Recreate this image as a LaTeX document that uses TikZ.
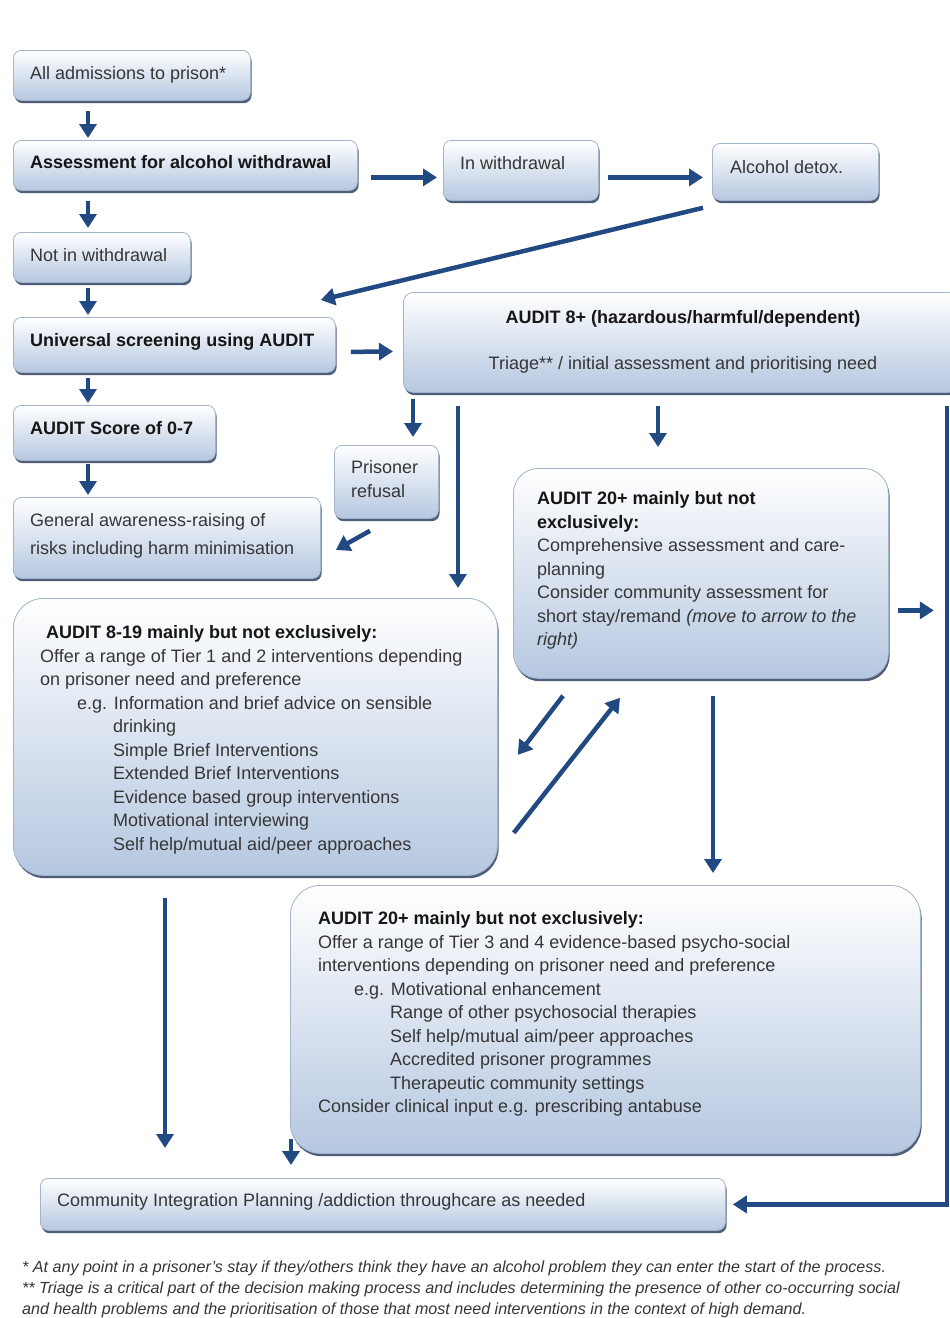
\documentclass[tikz,border=0pt]{standalone}
\usepackage{fontspec}
\setmainfont{Liberation Sans}
\usetikzlibrary{arrows.meta,shadows,calc}
\definecolor{arrowblue}{HTML}{224A82}
\definecolor{boxbot}{HTML}{B5C7E0}
\definecolor{boxline}{HTML}{A3B4CB}
\definecolor{shadowc}{HTML}{3B4C6B}
\definecolor{txtc}{HTML}{363636}
\definecolor{boldc}{HTML}{161616}
\newcommand\bx[6][8pt]{\node[box=#1, minimum width=#5pt, minimum height=#6pt] (#2) at (#3,#4) {};}
\begin{document}
\begin{tikzpicture}[x=1pt,y=-1pt,
 box/.style={draw=boxline, line width=0.8pt, rounded corners=#1, top color=white, bottom color=boxbot,
   drop shadow={shadow xshift=1.2pt, shadow yshift=-2.8pt, fill=shadowc, opacity=0.9},
   inner sep=0, anchor=north west},
 box/.default=8pt,
 txt/.style={font=\fontsize{18}{23.5}\selectfont, text=txtc, inner sep=0, align=left},
 btxt/.style={font=\fontsize{18}{23.5}\selectfont\bfseries, text=boldc, inner sep=0, align=left},
 foot/.style={font=\fontsize{16.1}{21}\selectfont\itshape, text=txtc, inner sep=0, align=left},
 arr/.style={draw=arrowblue, line width=4.5pt, -{Triangle[length=14pt,width=17pt]}},
]
\fill[white] (0,0) rectangle (950,1318);
\useasboundingbox (0,0) rectangle (950,1318);

% boxes
\bx{adm}{13}{50}{237}{50}
\bx{assess}{13}{140}{344}{50}
\bx{inw}{443}{140}{155}{60}
\bx{detox}{712}{143}{166}{57}
\bx{notw}{13}{232}{177}{50}
\bx{univ}{13}{317}{322}{55}
\bx[10pt]{aud8}{403}{292}{555}{100}
\bx{score}{13}{405}{202}{55}
\bx{refuse}{334}{445}{104}{73}
\bx{general}{13}{497}{307}{81}
\bx[25pt]{aud20}{513}{468}{375}{210}
\bx[30pt]{aud819}{13}{598}{484}{277}
\bx[30pt]{aud20b}{290}{885}{630}{268}
\bx{comm}{40}{1178}{685}{52}

% texts
\node[txt, anchor=base west] (tadm) at (30,79.5) {All admissions to prison*};
\node[btxt, anchor=base west] (tass) at (30,168.5) {Assessment for alcohol withdrawal};
\node[txt, anchor=base west] (tinw) at (460,169) {In withdrawal};
\node[txt, anchor=base west] (tdet) at (730,173.5) {Alcohol detox.};
\node[txt, anchor=base west] (tnotw) at (30,261) {Not in withdrawal};
\node[btxt, anchor=base west] (tuniv) at (30,346.5) {Universal screening using AUDIT};
\node[btxt, anchor=base] (ta8a) at (683,323.5) {AUDIT 8+ (hazardous/harmful/dependent)};
\node[txt, anchor=base] (ta8b) at (683,369) {Triage** / initial assessment and prioritising need};
\node[btxt, anchor=base west] (tscore) at (30,434.5) {AUDIT Score of 0-7};
\node[txt, anchor=north west] (tref) at (351,460.5) {Prisoner\\refusal};
\node[txt, anchor=north west, font=\fontsize{18}{28}\selectfont] (tgen) at (30,513.5) {General awareness-raising of\\risks including harm minimisation};
\node[txt, anchor=north west] (ta20) at (537,491.5) {\textbf{\color{boldc}AUDIT 20+ mainly but not}\\\textbf{\color{boldc}exclusively:}\\Comprehensive assessment and care-\\planning\\Consider community assessment for\\short stay/remand \textit{(move to arrow to the}\\\textit{right)}};
\node[txt, anchor=north west] (ta819) at (40,625.5) {\hspace*{6pt}\textbf{\color{boldc}AUDIT 8-19 mainly but not exclusively:}\\
Offer a range of Tier 1 and 2 interventions depending\\
on prisoner need and preference\\
\hspace*{37pt}e.g. Information and brief advice on sensible\\
\hspace*{73pt}drinking\\
\hspace*{73pt}Simple Brief Interventions\\
\hspace*{73pt}Extended Brief Interventions\\
\hspace*{73pt}Evidence based group interventions\\
\hspace*{73pt}Motivational interviewing\\
\hspace*{73pt}Self help/mutual aid/peer approaches};
\node[txt, anchor=north west] (ta20b) at (318,911.5) {\textbf{\color{boldc}AUDIT 20+ mainly but not exclusively:}\\
Offer a range of Tier 3 and 4 evidence-based psycho-social\\
interventions depending on prisoner need and preference\\
\hspace*{36pt}e.g. Motivational enhancement\\
\hspace*{72pt}Range of other psychosocial therapies\\
\hspace*{72pt}Self help/mutual aim/peer approaches\\
\hspace*{72pt}Accredited prisoner programmes\\
\hspace*{72pt}Therapeutic community settings\\
Consider clinical input e.g. prescribing antabuse};
\node[txt, anchor=base west] (tcomm) at (57,1206.5) {Community Integration Planning /addiction throughcare as needed};

\node[foot, anchor=north west] (tfoot) at (22,1261) {* At any point in a prisoner's stay if they/others think they have an alcohol problem they can enter the start of the process.\\
** Triage is a critical part of the decision making process and includes determining the presence of other co-occurring social\\
and health problems and the prioritisation of those that most need interventions in the context of high demand.};

% arrows
\draw[arr] ($(adm.south west)+(75,10)$) -- ($(assess.north west)+(75,-2)$);
\draw[arr] ($(assess.south west)+(75,10)$) -- ($(notw.north west)+(75,-4)$);
\draw[arr] ($(notw.south west)+(75,5)$) -- ($(univ.north west)+(75,-2)$);
\draw[arr] ($(univ.south west)+(75,5)$) -- ($(score.north west)+(75,-2)$);
\draw[arr] ($(score.south west)+(75,3)$) -- ($(general.north west)+(75,-2)$);
\draw[arr] ($(assess.east)+(13,12)$) -- ($(inw.west)+(-6,7)$);
\draw[arr] ($(inw.east)+(9,7)$) -- ($(detox.west)+(-9,5.5)$);
\draw[arr] ($(detox.south west)+(-9,7)$) -- ($(univ.north east)+(-15,-17)$);
\draw[arr] ($(univ.east)+(15,7)$) -- ($(aud8.west)+(-10,9)$);
\draw[arr] ($(aud8.south west)+(10,6)$) -- ($(refuse.north west)+(79,-8)$);
\draw[arr] ($(aud8.south west)+(55,13)$) -- ($(aud819.north west)+(445,-10)$);
\draw[arr] ($(aud8.south west)+(255,13)$) -- ($(aud20.north west)+(145,-21)$);
\draw[arr] ($(refuse.south west)+(36,12)$) -- ($(general.east)+(15,12)$);
\draw[arr] ($(aud8.south east)+(-12,13)$) |- ($(comm.east)+(7,0)$);
\coordinate (rline) at ($(aud20.east)+(45,37)$);
\draw[arr] ($(aud20.east)+(9,37)$) -- (rline);
\draw[arr] ($(aud20.south west)+(50,17)$) -- ($(aud819.east)+(20,18)$);
\draw[arr] ($(aud819.south east)+(16,-43)$) -- ($(aud20.south west)+(107,19)$);
\draw[arr] ($(aud20.south west)+(200,17)$) -- ($(aud20b.north west)+(423,-12)$);
\draw[arr] ($(aud819.south west)+(152,22)$) -- ($(comm.north west)+(125,-30)$);
\draw[arr] ($(aud20b.south west)+(1,-15)$) -- ($(comm.north west)+(251,-13)$);
\end{tikzpicture}
\end{document}
